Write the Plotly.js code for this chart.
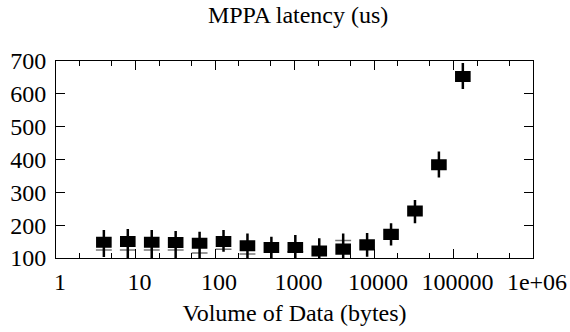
<!DOCTYPE html>
<html><head><meta charset="utf-8">
<script src="https://cdn.plot.ly/plotly-3.0.1.min.js"></script>
<style>html,body{margin:0;padding:0;background:#fff}</style>
</head><body><div id="chart" style="width:570px;height:332px"></div>
<script>
const sizes = [4,8,16,32,64,128,256,512,1024,2048,4096,8192,16384,32768,65536,131072];
const medianLat = [148,150,148,147,145,150,137,132,132,121,127,140,172,243,384,653];
const q1Lat = [135,137,135,134,132,137,124,119,119,108,114,127,159,230,371,640];
const q3Lat = [161,163,161,160,158,163,150,145,145,134,140,153,185,256,397,666];
const lowLat = [103,100,100,100,89,119,90,100,90,82,89,104,138,206,345,615];
const highLat = [185,188,185,182,180,185,175,165,170,160,175,176,206,277,424,694];
const capSizes = [4,8,16,32,64,128,256,1024,4096];
const capLat = [124,124,124,124,115,127,112,119,153];
const xTickVals = [1,10,100,1000,10000,100000,1000000];
const xTickText = ['1','10','100','1000','10000','100000','1e+06'];

const fam = 'Liberation Serif';

const capTrace = {
  type: 'box',
  x: capSizes,
  q1: capLat, median: capLat, q3: capLat,
  lowerfence: capLat, upperfence: capLat,
  width: 0.2,
  fillcolor: 'rgba(0,0,0,0)',
  line: {color: '#777', width: 1.5},
  boxpoints: false,
  hoverinfo: 'skip'
};

const trace = {
  type: 'box',
  x: sizes,
  q1: q1Lat, median: medianLat, q3: q3Lat,
  lowerfence: lowLat, upperfence: highLat,
  width: 0.165,
  fillcolor: '#000',
  line: {color: '#000', width: 2.5},
  whiskerwidth: 0,
  boxpoints: false,
  hoverinfo: 'skip'
};

const layout = {
  width: 570, height: 332,
  margin: {l: 56, r: 37, t: 61, b: 74},
  paper_bgcolor: '#fff', plot_bgcolor: '#fff',
  showlegend: false,
  boxmode: 'overlay',
  font: {family: fam, size: 24, color: '#000'},
  title: {text: 'MPPA latency (us)', font: {family: fam, size: 24, color: '#000'}, x: 0.523, xanchor: 'center', y: 0.955, yanchor: 'middle'},
  xaxis: {
    type: 'log', range: [0, 6],
    tickvals: xTickVals, ticktext: xTickText,
    ticks: 'inside', ticklen: 9, tickwidth: 1, tickcolor: '#000',
    ticklabelstandoff: 2, ticklabelshift: 4,
    minor: {dtick: 'D2', ticks: 'inside', ticklen: 5, tickwidth: 1, tickcolor: '#000', showgrid: false},
    showline: true, linecolor: '#000', linewidth: 1, mirror: 'allticks',
    showgrid: false, zeroline: false,
    tickfont: {family: fam, size: 24, color: '#000'},
    title: {text: 'Volume of Data (bytes)', font: {family: fam, size: 24, color: '#000'}, standoff: 10}
  },
  yaxis: {
    range: [100, 700], dtick: 100, tick0: 100,
    ticks: 'inside', ticklen: 9, tickwidth: 1, tickcolor: '#000',
    ticklabelstandoff: 4,
    showline: true, linecolor: '#000', linewidth: 1, mirror: 'allticks',
    showgrid: false, zeroline: false,
    tickfont: {family: fam, size: 24, color: '#000'}
  }
};
Plotly.newPlot('chart', [capTrace, trace], layout, {displayModeBar: false, staticPlot: true});
</script></body></html>
